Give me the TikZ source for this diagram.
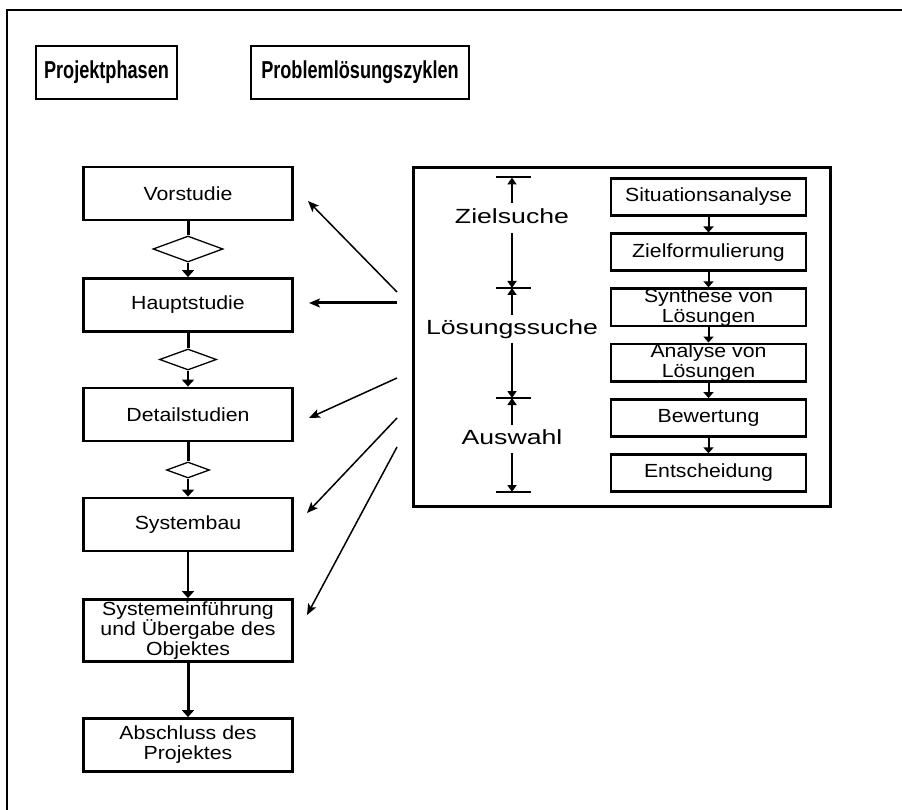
\documentclass[tikz,border=0pt]{standalone}
\usepackage{fontspec}
\setmainfont{Liberation Sans}
\newfontfamily\titlefont[FakeStretch=0.74]{Liberation Sans}
\newfontfamily\boxfont[FakeStretch=1.12]{Liberation Sans}
\newfontfamily\phasefont[FakeStretch=1.30]{Liberation Sans}
\usetikzlibrary{arrows.meta,shapes.geometric}

\tikzset{
  frameline/.style={line width=2pt},
  titlebox/.style={draw, line width=2.4pt, minimum height=53pt, inner sep=0pt,
    font=\titlefont\bfseries\fontsize{24.5}{26}\selectfont},
  phasebox/.style={draw, line width=2.8pt, minimum width=209pt, minimum height=53pt,
    inner sep=0pt, align=center, font=\boxfont\fontsize{19}{20}\selectfont},
  gate/.style={diamond, draw, line width=1.3pt, inner sep=0pt},
  stepbox/.style={draw, line width=2.4pt, minimum width=195pt, minimum height=37pt,
    inner sep=0pt, align=center, font=\boxfont\fontsize{19}{20}\selectfont},
  cyclebox/.style={draw, line width=3pt, inner sep=0pt},
  phaselabel/.style={font=\phasefont\fontsize{20.5}{22}\selectfont, fill=white,
    inner xsep=2pt, inner ysep=5pt, text height=14.5pt, text depth=4pt},
  flowtip/.style={-{Triangle[width=12pt,length=7pt]}},
  thickline/.style={line width=3pt},
  midline/.style={line width=2.5pt},
  thinline/.style={line width=1.5pt},
  steparrow/.style={line width=2pt, -{Triangle[width=10pt,length=6pt]}},
  dimline/.style={line width=1.8pt, -{Triangle[width=9pt,length=7pt]}},
  tickline/.style={line width=2pt},
  feed/.style={-{Stealth[length=11pt,width=9pt,inset=2.5pt]}},
}

\begin{document}
\begin{tikzpicture}[x=1pt,y=-1pt]
\useasboundingbox (0,0) rectangle (902,810);

% page frame (top and left edges only)
\draw[frameline] (7,810) -- (7,10) -- (902,10);

% headings
\node[titlebox, minimum width=141pt] (hleft) at (106.5,72.5) {Projektphasen};
\node[titlebox, minimum width=218pt] (hright) at (360,72.5) {Problemlösungszyklen};

% project phases
\node[phasebox] (vor) at (188,193.5) {Vorstudie};
\node[gate, minimum width=70pt, minimum height=26pt] (g1) at (188,249) {};
\node[phasebox] (haupt) at (188,305) {Hauptstudie};
\node[gate, minimum width=57pt, minimum height=21pt] (g2) at (188,359.5) {};
\node[phasebox] (detail) at (188,414.5) {Detailstudien};
\node[gate, minimum width=43pt, minimum height=16pt] (g3) at (188,470) {};
\node[phasebox] (bau) at (188,524.5) {Systembau};
\node[phasebox, minimum height=62pt] (einf) at (188,630.5) {Systemeinführung\\und Übergabe des\\Objektes};
\node[phasebox] (abschl) at (188,745) {Abschluss des\\Projektes};

\draw[thickline] (vor) -- (g1);
\draw[midline, flowtip] (g1) -- (haupt);
\draw[thickline] (haupt) -- (g2);
\draw[midline, flowtip] (g2) -- (detail);
\draw[thickline] (detail) -- (g3);
\draw[midline, flowtip] (g3) -- (bau);
\draw[thinline, flowtip] (bau) -- (einf);
\draw[thickline, flowtip] (einf) -- (abschl);

% problem solving cycle
\node[cyclebox, minimum width=417pt, minimum height=339pt] (cycle) at (622,337) {};

\node[stepbox] (sit) at (708.5,197) {Situationsanalyse};
\node[stepbox] (ziel) at (708.5,252.2) {Zielformulierung};
\node[stepbox] (syn) at (708.5,307.4) {Synthese von\\Lösungen};
\node[stepbox] (ana) at (708.5,362.6) {Analyse von\\Lösungen};
\node[stepbox] (bew) at (708.5,417.8) {Bewertung};
\node[stepbox] (ent) at (708.5,473) {Entscheidung};

\draw[steparrow] (sit) -- (ziel);
\draw[steparrow] (ziel) -- (syn);
\draw[steparrow] (syn) -- (ana);
\draw[steparrow] (ana) -- (bew);
\draw[steparrow] (bew) -- (ent);

% span markers
\coordinate (t1) at (512,177.5);
\coordinate (t2) at (512,288);
\coordinate (t3) at (512,398);
\coordinate (t4) at (512,492);
\foreach \t in {t1,t2,t3,t4}
  \draw[tickline] (\t) +(-16,0) -- +(19,0);

\node[phaselabel, inner ysep=5.75pt] (zs) at (512,218) {Zielsuche};
\node[phaselabel, inner ysep=4.75pt] (ls) at (512,329) {Lösungssuche};
\node[phaselabel, inner ysep=4.75pt] (aw) at (512,439) {Auswahl};

\draw[dimline] (zs) -- (t1);
\draw[dimline] (zs) -- (t2);
\draw[dimline] (ls) -- (t2);
\draw[dimline] (ls) -- (t3);
\draw[dimline] (aw) -- (t3);
\draw[dimline] (aw) -- (t4);

% links from the cycle to the phases
\coordinate (s1) at (397,292);
\coordinate (e1) at (308,201);
\coordinate (s2) at (397,303);
\coordinate (e2) at (309,303);
\coordinate (s3) at (397,378);
\coordinate (e3) at (309,418);
\coordinate (s4) at (397,418);
\coordinate (e4) at (307,513);
\coordinate (s5) at (397,447);
\coordinate (e5) at (307,615);

\draw[thinline, feed] (s1) -- (e1);
\draw[thickline, feed] (s2) -- (e2);
\draw[thinline, feed] (s3) -- (e3);
\draw[thinline, feed] (s4) -- (e4);
\draw[thinline, feed] (s5) -- (e5);
\end{tikzpicture}
\end{document}
